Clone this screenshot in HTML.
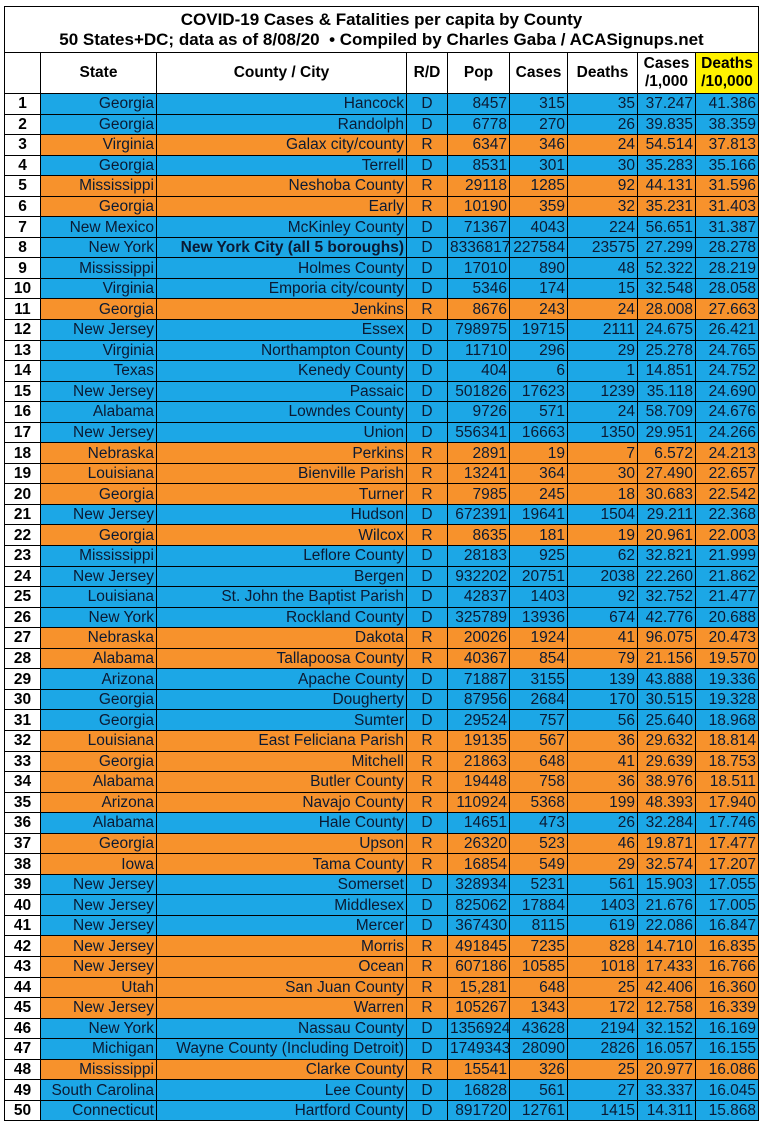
<!DOCTYPE html>
<html><head><meta charset="utf-8"><style>
body{margin:0;background:#fff;width:765px;height:1125px;overflow:hidden;font-family:"Liberation Sans",Arial,sans-serif;}
table{position:absolute;left:4px;top:6px;border-collapse:collapse;table-layout:fixed;width:754px;}
td{border:1px solid #000;padding:0 2px;font-size:15.5px;white-space:nowrap;overflow:hidden;color:#0b1a33;text-align:right;line-height:19px;}
tr.d td{height:19.55px;}
tr.b td:not(:first-child){background:#1ca7e6;}
tr.o td:not(:first-child){background:#f7922c;}
td.n{background:#fff;text-align:center;font-weight:bold;color:#000;}
td.c{text-align:center;}
tr.t td{font-weight:bold;color:#000;text-align:center;font-size:17px;line-height:20px;height:45px;}
tr.h td{font-weight:bold;color:#000;text-align:center;font-size:15.5px;height:40px;line-height:18px;}
td.y{background:#fff200;}
</style></head><body>
<table>
<colgroup><col style="width:36px"><col style="width:116px"><col style="width:250px"><col style="width:41px"><col style="width:62px"><col style="width:58px"><col style="width:70px"><col style="width:58px"><col style="width:63px"></colgroup>
<tr class="t"><td colspan="9">COVID-19 Cases &amp; Fatalities per capita by County<br>50 States+DC; data as of 8/08/20 &nbsp;• Compiled by Charles Gaba / ACASignups.net</td></tr>
<tr class="h"><td></td><td>State</td><td>County / City</td><td>R/D</td><td>Pop</td><td>Cases</td><td>Deaths</td><td>Cases<br>/1,000</td><td class="y">Deaths<br>/10,000</td></tr>
<tr class="d b"><td class="n">1</td><td>Georgia</td><td>Hancock</td><td class="c">D</td><td>8457</td><td>315</td><td>35</td><td>37.247</td><td>41.386</td></tr>
<tr class="d b"><td class="n">2</td><td>Georgia</td><td>Randolph</td><td class="c">D</td><td>6778</td><td>270</td><td>26</td><td>39.835</td><td>38.359</td></tr>
<tr class="d o"><td class="n">3</td><td>Virginia</td><td>Galax city/county</td><td class="c">R</td><td>6347</td><td>346</td><td>24</td><td>54.514</td><td>37.813</td></tr>
<tr class="d b"><td class="n">4</td><td>Georgia</td><td>Terrell</td><td class="c">D</td><td>8531</td><td>301</td><td>30</td><td>35.283</td><td>35.166</td></tr>
<tr class="d o"><td class="n">5</td><td>Mississippi</td><td>Neshoba County</td><td class="c">R</td><td>29118</td><td>1285</td><td>92</td><td>44.131</td><td>31.596</td></tr>
<tr class="d o"><td class="n">6</td><td>Georgia</td><td>Early</td><td class="c">R</td><td>10190</td><td>359</td><td>32</td><td>35.231</td><td>31.403</td></tr>
<tr class="d b"><td class="n">7</td><td>New Mexico</td><td>McKinley County</td><td class="c">D</td><td>71367</td><td>4043</td><td>224</td><td>56.651</td><td>31.387</td></tr>
<tr class="d b"><td class="n">8</td><td>New York</td><td style="font-weight:bold">New York City (all 5 boroughs)</td><td class="c">D</td><td>8336817</td><td>227584</td><td>23575</td><td>27.299</td><td>28.278</td></tr>
<tr class="d b"><td class="n">9</td><td>Mississippi</td><td>Holmes County</td><td class="c">D</td><td>17010</td><td>890</td><td>48</td><td>52.322</td><td>28.219</td></tr>
<tr class="d b"><td class="n">10</td><td>Virginia</td><td>Emporia city/county</td><td class="c">D</td><td>5346</td><td>174</td><td>15</td><td>32.548</td><td>28.058</td></tr>
<tr class="d o"><td class="n">11</td><td>Georgia</td><td>Jenkins</td><td class="c">R</td><td>8676</td><td>243</td><td>24</td><td>28.008</td><td>27.663</td></tr>
<tr class="d b"><td class="n">12</td><td>New Jersey</td><td>Essex</td><td class="c">D</td><td>798975</td><td>19715</td><td>2111</td><td>24.675</td><td>26.421</td></tr>
<tr class="d b"><td class="n">13</td><td>Virginia</td><td>Northampton County</td><td class="c">D</td><td>11710</td><td>296</td><td>29</td><td>25.278</td><td>24.765</td></tr>
<tr class="d b"><td class="n">14</td><td>Texas</td><td>Kenedy County</td><td class="c">D</td><td>404</td><td>6</td><td>1</td><td>14.851</td><td>24.752</td></tr>
<tr class="d b"><td class="n">15</td><td>New Jersey</td><td>Passaic</td><td class="c">D</td><td>501826</td><td>17623</td><td>1239</td><td>35.118</td><td>24.690</td></tr>
<tr class="d b"><td class="n">16</td><td>Alabama</td><td>Lowndes County</td><td class="c">D</td><td>9726</td><td>571</td><td>24</td><td>58.709</td><td>24.676</td></tr>
<tr class="d b"><td class="n">17</td><td>New Jersey</td><td>Union</td><td class="c">D</td><td>556341</td><td>16663</td><td>1350</td><td>29.951</td><td>24.266</td></tr>
<tr class="d o"><td class="n">18</td><td>Nebraska</td><td>Perkins</td><td class="c">R</td><td>2891</td><td>19</td><td>7</td><td>6.572</td><td>24.213</td></tr>
<tr class="d o"><td class="n">19</td><td>Louisiana</td><td>Bienville Parish</td><td class="c">R</td><td>13241</td><td>364</td><td>30</td><td>27.490</td><td>22.657</td></tr>
<tr class="d o"><td class="n">20</td><td>Georgia</td><td>Turner</td><td class="c">R</td><td>7985</td><td>245</td><td>18</td><td>30.683</td><td>22.542</td></tr>
<tr class="d b"><td class="n">21</td><td>New Jersey</td><td>Hudson</td><td class="c">D</td><td>672391</td><td>19641</td><td>1504</td><td>29.211</td><td>22.368</td></tr>
<tr class="d o"><td class="n">22</td><td>Georgia</td><td>Wilcox</td><td class="c">R</td><td>8635</td><td>181</td><td>19</td><td>20.961</td><td>22.003</td></tr>
<tr class="d b"><td class="n">23</td><td>Mississippi</td><td>Leflore County</td><td class="c">D</td><td>28183</td><td>925</td><td>62</td><td>32.821</td><td>21.999</td></tr>
<tr class="d b"><td class="n">24</td><td>New Jersey</td><td>Bergen</td><td class="c">D</td><td>932202</td><td>20751</td><td>2038</td><td>22.260</td><td>21.862</td></tr>
<tr class="d b"><td class="n">25</td><td>Louisiana</td><td>St. John the Baptist Parish</td><td class="c">D</td><td>42837</td><td>1403</td><td>92</td><td>32.752</td><td>21.477</td></tr>
<tr class="d b"><td class="n">26</td><td>New York</td><td>Rockland County</td><td class="c">D</td><td>325789</td><td>13936</td><td>674</td><td>42.776</td><td>20.688</td></tr>
<tr class="d o"><td class="n">27</td><td>Nebraska</td><td>Dakota</td><td class="c">R</td><td>20026</td><td>1924</td><td>41</td><td>96.075</td><td>20.473</td></tr>
<tr class="d o"><td class="n">28</td><td>Alabama</td><td>Tallapoosa County</td><td class="c">R</td><td>40367</td><td>854</td><td>79</td><td>21.156</td><td>19.570</td></tr>
<tr class="d b"><td class="n">29</td><td>Arizona</td><td>Apache County</td><td class="c">D</td><td>71887</td><td>3155</td><td>139</td><td>43.888</td><td>19.336</td></tr>
<tr class="d b"><td class="n">30</td><td>Georgia</td><td>Dougherty</td><td class="c">D</td><td>87956</td><td>2684</td><td>170</td><td>30.515</td><td>19.328</td></tr>
<tr class="d b"><td class="n">31</td><td>Georgia</td><td>Sumter</td><td class="c">D</td><td>29524</td><td>757</td><td>56</td><td>25.640</td><td>18.968</td></tr>
<tr class="d o"><td class="n">32</td><td>Louisiana</td><td>East Feliciana Parish</td><td class="c">R</td><td>19135</td><td>567</td><td>36</td><td>29.632</td><td>18.814</td></tr>
<tr class="d o"><td class="n">33</td><td>Georgia</td><td>Mitchell</td><td class="c">R</td><td>21863</td><td>648</td><td>41</td><td>29.639</td><td>18.753</td></tr>
<tr class="d o"><td class="n">34</td><td>Alabama</td><td>Butler County</td><td class="c">R</td><td>19448</td><td>758</td><td>36</td><td>38.976</td><td>18.511</td></tr>
<tr class="d o"><td class="n">35</td><td>Arizona</td><td>Navajo County</td><td class="c">R</td><td>110924</td><td>5368</td><td>199</td><td>48.393</td><td>17.940</td></tr>
<tr class="d b"><td class="n">36</td><td>Alabama</td><td>Hale County</td><td class="c">D</td><td>14651</td><td>473</td><td>26</td><td>32.284</td><td>17.746</td></tr>
<tr class="d o"><td class="n">37</td><td>Georgia</td><td>Upson</td><td class="c">R</td><td>26320</td><td>523</td><td>46</td><td>19.871</td><td>17.477</td></tr>
<tr class="d o"><td class="n">38</td><td>Iowa</td><td>Tama County</td><td class="c">R</td><td>16854</td><td>549</td><td>29</td><td>32.574</td><td>17.207</td></tr>
<tr class="d b"><td class="n">39</td><td>New Jersey</td><td>Somerset</td><td class="c">D</td><td>328934</td><td>5231</td><td>561</td><td>15.903</td><td>17.055</td></tr>
<tr class="d b"><td class="n">40</td><td>New Jersey</td><td>Middlesex</td><td class="c">D</td><td>825062</td><td>17884</td><td>1403</td><td>21.676</td><td>17.005</td></tr>
<tr class="d b"><td class="n">41</td><td>New Jersey</td><td>Mercer</td><td class="c">D</td><td>367430</td><td>8115</td><td>619</td><td>22.086</td><td>16.847</td></tr>
<tr class="d o"><td class="n">42</td><td>New Jersey</td><td>Morris</td><td class="c">R</td><td>491845</td><td>7235</td><td>828</td><td>14.710</td><td>16.835</td></tr>
<tr class="d o"><td class="n">43</td><td>New Jersey</td><td>Ocean</td><td class="c">R</td><td>607186</td><td>10585</td><td>1018</td><td>17.433</td><td>16.766</td></tr>
<tr class="d o"><td class="n">44</td><td>Utah</td><td>San Juan County</td><td class="c">R</td><td>15,281</td><td>648</td><td>25</td><td>42.406</td><td>16.360</td></tr>
<tr class="d o"><td class="n">45</td><td>New Jersey</td><td>Warren</td><td class="c">R</td><td>105267</td><td>1343</td><td>172</td><td>12.758</td><td>16.339</td></tr>
<tr class="d b"><td class="n">46</td><td>New York</td><td>Nassau County</td><td class="c">D</td><td>1356924</td><td>43628</td><td>2194</td><td>32.152</td><td>16.169</td></tr>
<tr class="d b"><td class="n">47</td><td>Michigan</td><td>Wayne County (Including Detroit)</td><td class="c">D</td><td>1749343</td><td>28090</td><td>2826</td><td>16.057</td><td>16.155</td></tr>
<tr class="d o"><td class="n">48</td><td>Mississippi</td><td>Clarke County</td><td class="c">R</td><td>15541</td><td>326</td><td>25</td><td>20.977</td><td>16.086</td></tr>
<tr class="d b"><td class="n">49</td><td>South Carolina</td><td>Lee County</td><td class="c">D</td><td>16828</td><td>561</td><td>27</td><td>33.337</td><td>16.045</td></tr>
<tr class="d b"><td class="n">50</td><td>Connecticut</td><td>Hartford County</td><td class="c">D</td><td>891720</td><td>12761</td><td>1415</td><td>14.311</td><td>15.868</td></tr>
</table>
</body></html>
